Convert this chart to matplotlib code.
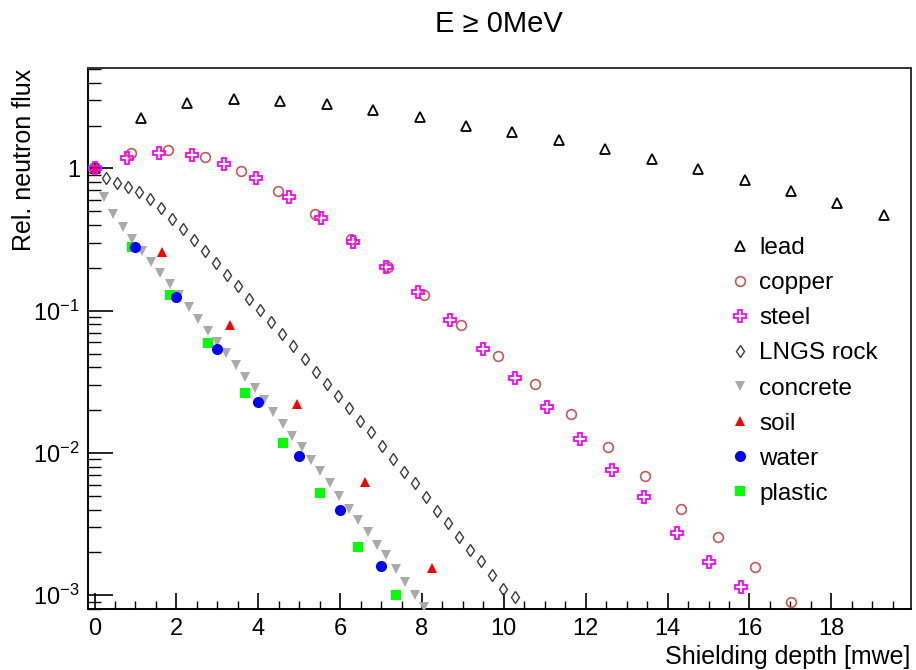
import math
import matplotlib
matplotlib.use("Agg")
import matplotlib.pyplot as plt
from matplotlib.ticker import MultipleLocator, LogLocator, FuncFormatter, NullFormatter

plt.rcParams['font.family'] = ['Liberation Sans', 'DejaVu Sans']
plt.rcParams['mathtext.fontset'] = 'custom'
plt.rcParams['mathtext.rm'] = 'Liberation Sans'
plt.rcParams['mathtext.it'] = 'Liberation Sans:italic'
plt.rcParams['mathtext.bf'] = 'Liberation Sans:bold'

# Shielding depth [mwe] and relative neutron flux per material
lead_x = [0, 1.13, 2.27, 3.40, 4.54, 5.67, 6.80, 7.94, 9.07, 10.21, 11.34, 12.47,
          13.61, 14.74, 15.88, 17.01, 18.14, 19.28]
lead_y = [1.0, 2.25, 2.87, 3.06, 2.99, 2.82, 2.57, 2.30, 1.99, 1.81, 1.575, 1.36,
          1.164, 0.99, 0.833, 0.69, 0.569, 0.473]

copper_x = [0, 0.90, 1.79, 2.69, 3.58, 4.48, 5.38, 6.27, 7.17, 8.06, 8.96, 9.86,
            10.75, 11.65, 12.54, 13.44, 14.34, 15.23, 16.13, 17.02]
copper_y = [1.0, 1.28, 1.35, 1.20, 0.954, 0.69, 0.478, 0.318, 0.204, 0.128, 0.0794,
            0.0483, 0.0304, 0.0187, 0.01107, 0.00686, 0.00406, 0.00257, 0.001574,
            0.000902]

steel_x = [0, 0.79, 1.58, 2.37, 3.16, 3.95, 4.74, 5.53, 6.32, 7.11, 7.90, 8.69,
           9.48, 10.27, 11.06, 11.85, 12.64, 13.43, 14.22, 15.01, 15.80]
steel_y = [1.0, 1.178, 1.277, 1.236, 1.069, 0.852, 0.633, 0.446, 0.305, 0.204, 0.135,
           0.0861, 0.0538, 0.0338, 0.0210, 0.01259, 0.00763, 0.00489, 0.00273,
           0.00171, 0.00115]

rock_x = [0, 0.27, 0.54, 0.81, 1.08, 1.35, 1.62, 1.89, 2.16, 2.43, 2.70, 2.97, 3.24,
          3.51, 3.78, 4.05, 4.32, 4.59, 4.86, 5.13, 5.40, 5.67, 5.94, 6.21, 6.48,
          6.75, 7.02, 7.29, 7.56, 7.83, 8.10, 8.37, 8.64, 8.91, 9.18, 9.45, 9.72,
          9.99, 10.26]
rock_y = [1.0, 0.852, 0.785, 0.743, 0.682, 0.606, 0.525, 0.441, 0.373, 0.312, 0.261,
          0.215, 0.179, 0.149, 0.120, 0.1012, 0.0829, 0.0686, 0.0562, 0.0460,
          0.0373, 0.0307, 0.0251, 0.0208, 0.0168, 0.0140, 0.01113, 0.00902,
          0.00734, 0.00618, 0.00488, 0.00391, 0.00322, 0.00257, 0.00208, 0.00175,
          0.00138, 0.00110, 0.000966]

concrete_x = [0, 0.23, 0.46, 0.69, 0.92, 1.15, 1.38, 1.61, 1.84, 2.07, 2.30, 2.53,
              2.76, 2.99, 3.22, 3.45, 3.68, 3.91, 4.14, 4.37, 4.60, 4.83, 5.06,
              5.29, 5.52, 5.75, 5.98, 6.21, 6.44, 6.67, 6.90, 7.13, 7.36, 7.59,
              7.82, 8.05]
concrete_y = [1.0, 0.633, 0.475, 0.385, 0.321, 0.264, 0.221, 0.185, 0.154, 0.1288,
              0.1058, 0.0869, 0.0724, 0.0606, 0.0502, 0.0415, 0.0343, 0.0287,
              0.0235, 0.0195, 0.0159, 0.0131, 0.0110, 0.00893, 0.00743, 0.00612,
              0.00498, 0.00405, 0.00338, 0.00277, 0.00226, 0.00191, 0.00154,
              0.00123, 0.00101, 0.000824]

soil_x = [0, 1.65, 3.30, 4.95, 6.60, 8.25]
soil_y = [1.0, 0.260, 0.0789, 0.0222, 0.00625, 0.00156]

water_x = [0, 1, 2, 3, 4, 5, 6, 7]
water_y = [1.0, 0.282, 0.124, 0.0538, 0.0228, 0.00952, 0.00397, 0.00161]

plastic_x = [0, 0.92, 1.84, 2.76, 3.68, 4.60, 5.52, 6.44, 7.36]
plastic_y = [1.0, 0.279, 0.129, 0.0596, 0.0265, 0.0118, 0.00521, 0.00218, 0.00101]

legend_order = ["lead", "copper", "steel", "LNGS rock", "concrete", "soil", "water",
                "plastic"]

fig = plt.figure(figsize=(9.16, 6.70), dpi=100)
ax = fig.add_axes([88.3 / 916, 1 - 609.3 / 670, (910.7 - 88.3) / 916,
                   (609.3 - 68.3) / 670])

h = {}
h["lead"], = ax.plot(lead_x, lead_y, ls='none', marker='^', ms=7, mfc='none',
                     mec='black', mew=1.3, zorder=3)
h["copper"], = ax.plot(copper_x, copper_y, ls='none', marker='o', ms=7, mfc='none',
                       mec='#cc5555', mew=1.2, zorder=3)
h["LNGS rock"], = ax.plot(rock_x, rock_y, ls='none', marker='d', ms=6.5, mfc='none',
                          mec='#3a3a3a', mew=1.0, zorder=3)
h["concrete"], = ax.plot(concrete_x, concrete_y, ls='none', marker='v', ms=7.5,
                         mfc='#aaaaaa', mec='#aaaaaa', mew=0, zorder=3)
h["plastic"], = ax.plot(plastic_x, plastic_y, ls='none', marker='s', ms=7,
                        mfc='#00ff00', mec='#00ff00', mew=0, zorder=3)
h["water"], = ax.plot(water_x, water_y, ls='none', marker='o', ms=8,
                      mfc='#0000ff', mec='#0000ff', mew=0, zorder=3)
h["soil"], = ax.plot(soil_x, soil_y, ls='none', marker='^', ms=7.5,
                     mfc='#ff0000', mec='#ff0000', mew=0, zorder=3)
h["steel"], = ax.plot(steel_x, steel_y, ls='none', marker='P', ms=8, mfc='none',
                      mec='#ff00ff', mew=1.3, zorder=3)

ax.set_yscale('log')
ax.set_xlim(-0.153, 19.94)
ax.set_ylim(7.97e-4, 5.05)

ax.xaxis.set_major_locator(MultipleLocator(2))
ax.xaxis.set_minor_locator(MultipleLocator(0.5))
ax.yaxis.set_major_locator(LogLocator(base=10))
ax.yaxis.set_minor_locator(LogLocator(base=10, subs=range(2, 10)))
ax.yaxis.set_minor_formatter(NullFormatter())


def log_label(v, pos):
    if abs(v - 1) < 1e-9:
        return '1'
    e = int(round(math.log10(v)))
    return r'$10^{%d}$' % e


ax.yaxis.set_major_formatter(FuncFormatter(log_label))

ax.tick_params(axis='x', which='major', direction='in', length=11.5, width=1.2,
               labelsize=17, pad=6, top=False)
ax.tick_params(axis='x', which='minor', direction='in', length=5.8, width=1.0,
               top=False)
ax.tick_params(axis='y', which='major', direction='in', length=18, width=1.2,
               labelsize=17, pad=6, right=False)
ax.tick_params(axis='y', which='minor', direction='in', length=9, width=1.0,
               right=False)

for s in ax.spines.values():
    s.set_linewidth(1.4)
    s.set_color('black')
ax.spines['top'].set_color('#333333')
ax.spines['right'].set_color('#333333')

ax.set_xlabel('Shielding depth [mwe]', fontsize=18, loc='right', labelpad=4)
fig.text(24 / 916, 1 - 69 / 670, 'Rel. neutron flux', fontsize=18, rotation=90,
         ha='center', va='top')

fig.text(499 / 916, 1 - 24 / 670, 'E \u2265 0MeV', fontsize=21, ha='center',
         va='center')

ax.legend([h[k] for k in legend_order], legend_order, loc='upper left',
          bbox_to_anchor=(730 / 916, 1 - 237 / 670), bbox_transform=fig.transFigure,
          frameon=False, fontsize=17.5, borderpad=0, borderaxespad=0,
          handlelength=0.8, handletextpad=0.4, labelspacing=0.54, numpoints=1)

fig.savefig('out.png', dpi=100)
